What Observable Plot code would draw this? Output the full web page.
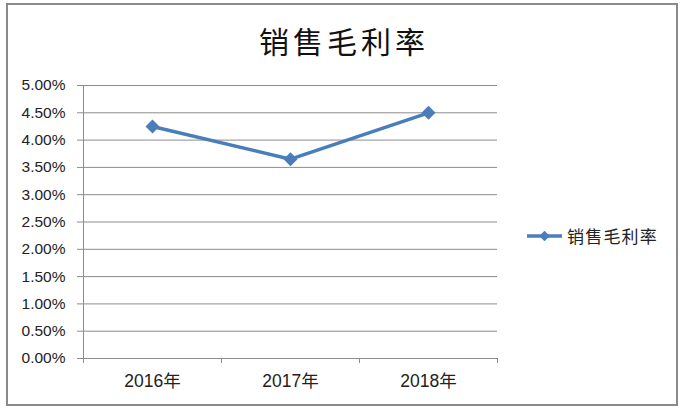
<!DOCTYPE html>
<html>
<head>
<meta charset="utf-8">
<script src="https://cdn.jsdelivr.net/npm/d3@7"></script>
<script src="https://cdn.jsdelivr.net/npm/@observablehq/plot@0.6"></script>
<style>
  html, body { margin: 0; padding: 0; background: #fff; }
  #wrap { position: relative; width: 684px; height: 412px; overflow: hidden; }
  #border { position: absolute; left: 6px; top: 3px; width: 668px; height: 399px; border: 2px solid #8a8a8a; }
  #title { position: absolute; left: 2px; width: 684px; top: 18px; text-align: center;
           font-family: "Noto Sans CJK SC", sans-serif; font-size: 30px; letter-spacing: 4px; color: #111; line-height: 44px; }
  #legend { position: absolute; left: 526px; top: 224px; font-family: "Noto Sans CJK SC", sans-serif;
            font-size: 17px; letter-spacing: 1.2px; color: #222; display: flex; align-items: center; line-height: 24px; }
  #plot { position: absolute; left: 0; top: 0; }
</style>
</head>
<body>
<div id="wrap">
  <div id="border"></div>
  <div id="title"></div>
  <div id="plot"></div>
  <div id="legend"></div>
</div>
<script>
const title = "销售毛利率";
const seriesName = "销售毛利率";
const categories = ["2016年", "2017年", "2018年"];
const values = [0.0425, 0.0365, 0.045];
const yTicks = [0, 0.005, 0.01, 0.015, 0.02, 0.025, 0.03, 0.035, 0.04, 0.045, 0.05];

const color = "#4a7ebb";
const grid = "#8c8c8c";
const data = categories.map((c, i) => ({cat: c, x: i + 0.5, v: values[i]}));

document.getElementById("title").textContent = title;

const chart = Plot.plot({
  width: 684,
  height: 412,
  marginLeft: 83,
  marginRight: 187,
  marginTop: 85,
  marginBottom: 54,
  style: {fontFamily: "'Liberation Sans', 'Noto Sans CJK SC', sans-serif", fontSize: "15.5px", color: "#222", background: "transparent"},
  x: {type: "linear", domain: [0, categories.length]},
  y: {domain: [0, 0.05]},
  marks: [
    Plot.ruleY(yTicks, {y: d => d, stroke: grid, strokeOpacity: 1}),
    Plot.ruleX([0], {stroke: grid, strokeOpacity: 1}),
    Plot.axisY({ticks: yTicks, tickSize: 6, tickPadding: 12, tickFormat: d3.format(".2%"), stroke: grid, label: null, fontSize: 15.5}),
    Plot.axisX({ticks: d3.range(categories.length + 1), tickSize: 5, tickFormat: () => "", stroke: grid, label: null}),
    Plot.axisX({ticks: data.map(d => d.x), tickSize: 0, tickPadding: 16, tickFormat: t => categories[Math.round(t - 0.5)], label: null, fontSize: 17.5}),
    Plot.line(data, {x: "x", y: "v", stroke: color, strokeWidth: 3.5}),
    Plot.dot(data, {x: "x", y: "v", symbol: "diamond2", r: 6.3, fill: color, stroke: "none"})
  ]
});
document.getElementById("plot").appendChild(chart);

// legend
const lg = document.getElementById("legend");
const sw = d3.create("svg").attr("width", 38).attr("height", 24).style("display", "block");
sw.append("line").attr("x1", 1).attr("x2", 36).attr("y1", 12).attr("y2", 12).attr("stroke", color).attr("stroke-width", 3.5);
sw.append("path").attr("d", d3.symbol(d3.symbolDiamond2, 70)()).attr("transform", "translate(18.5,12)").attr("fill", color);
lg.appendChild(sw.node());
const span = document.createElement("span");
span.textContent = seriesName;
span.style.marginLeft = "3px";
lg.appendChild(span);
</script>
</body>
</html>
